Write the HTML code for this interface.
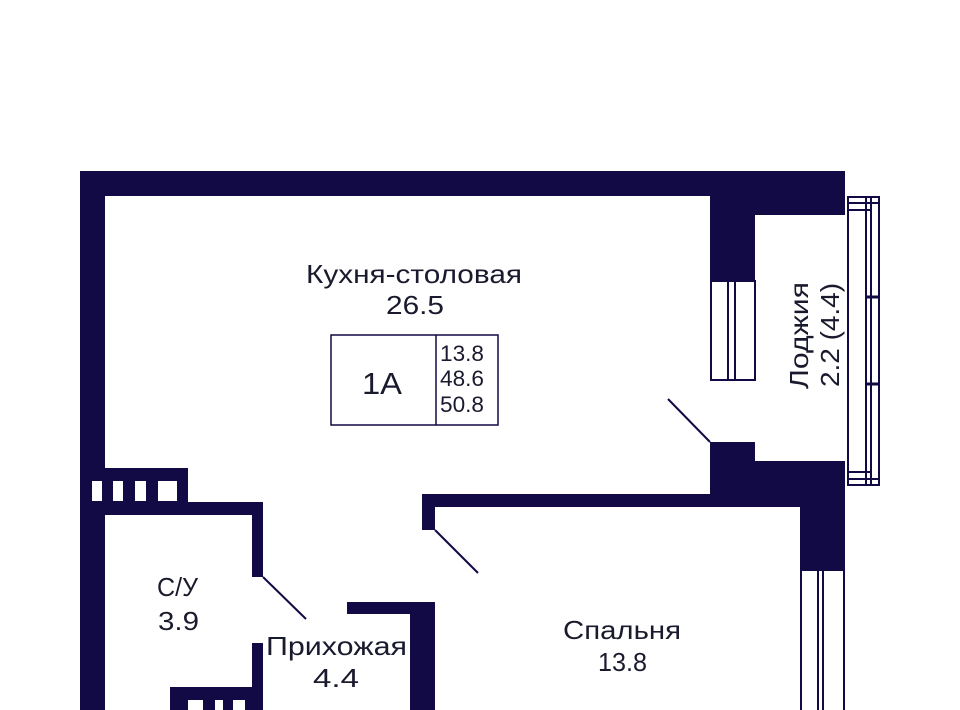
<!DOCTYPE html>
<html><head><meta charset="utf-8"><style>
html,body{margin:0;padding:0;background:#fff;width:960px;height:710px;overflow:hidden}
text{font-family:"Liberation Sans",sans-serif;fill:#1a1a2e}
</style></head><body>
<svg width="960" height="710" viewBox="0 0 960 710" xmlns="http://www.w3.org/2000/svg">
<g fill="#110a44">
<rect x="80" y="171" width="765" height="25"/>
<rect x="755" y="171" width="90" height="44"/>
<rect x="710" y="196" width="45" height="85"/>
<rect x="80" y="171" width="25" height="539"/>
<rect x="80" y="468" width="108" height="37"/>
<rect x="80" y="502" width="183" height="13"/>
<rect x="252" y="502" width="11" height="75"/>
<rect x="252" y="643" width="11" height="67"/>
<rect x="170" y="687" width="93" height="23"/>
<rect x="347" y="602" width="88" height="12"/>
<rect x="410" y="602" width="25" height="108"/>
<rect x="422" y="494" width="378" height="13"/>
<rect x="422" y="494" width="13" height="36"/>
<rect x="710" y="442" width="45" height="60"/>
<rect x="710" y="461" width="135" height="46"/>
<rect x="800" y="461" width="45" height="110"/>
</g>
<g fill="#fff">
<rect x="92" y="481" width="10" height="20"/>
<rect x="113" y="481" width="10" height="20"/>
<rect x="135" y="481" width="11" height="20"/>
<rect x="158" y="481" width="19" height="20"/>
<rect x="188" y="700" width="15" height="10"/>
<rect x="215" y="700" width="8" height="10"/>
<rect x="233" y="700" width="12" height="10"/>
</g>
<g stroke="#110a44" fill="none" stroke-width="2">
<line x1="263" y1="577" x2="306" y2="619"/>
<line x1="435" y1="530" x2="478" y2="573"/>
<line x1="668" y1="399" x2="710" y2="442"/>
<rect x="711" y="281" width="44" height="99"/>
<line x1="728" y1="281" x2="728" y2="380"/>
<line x1="735" y1="281" x2="735" y2="380"/>
<line x1="801" y1="571" x2="801" y2="710"/>
<line x1="818" y1="571" x2="818" y2="710"/>
<line x1="823" y1="571" x2="823" y2="710"/>
<line x1="844" y1="571" x2="844" y2="710"/>
<rect x="848" y="197" width="31" height="288"/>
<line x1="866" y1="197" x2="866" y2="485"/>
<line x1="871" y1="197" x2="871" y2="485"/>
<line x1="848" y1="203" x2="879" y2="203"/>
<line x1="848" y1="210" x2="871" y2="210"/>
<line x1="848" y1="472" x2="871" y2="472"/>
<line x1="848" y1="479" x2="879" y2="479"/>
<line x1="866" y1="297" x2="879" y2="297" stroke-width="3"/>
<line x1="866" y1="384" x2="879" y2="384" stroke-width="3"/>
<rect x="331" y="335" width="167" height="90" stroke-width="1.5"/>
<line x1="436" y1="335" x2="436" y2="425" stroke-width="1.5"/>
</g>
<g font-size="26">
<text x="306" y="283" textLength="216" lengthAdjust="spacingAndGlyphs">Кухня-столовая</text>
<text x="386" y="314" textLength="58" lengthAdjust="spacingAndGlyphs">26.5</text>
<text x="157" y="596" textLength="41" lengthAdjust="spacingAndGlyphs">С/У</text>
<text x="158" y="630" textLength="41" lengthAdjust="spacingAndGlyphs">3.9</text>
<text x="266" y="655" textLength="141" lengthAdjust="spacingAndGlyphs">Прихожая</text>
<text x="313" y="687" textLength="46" lengthAdjust="spacingAndGlyphs">4.4</text>
<text x="563" y="639" textLength="118" lengthAdjust="spacingAndGlyphs">Спальня</text>
<text x="598" y="671" textLength="49" lengthAdjust="spacingAndGlyphs">13.8</text>
<text x="362" y="394" font-size="31" textLength="40" lengthAdjust="spacingAndGlyphs">1A</text>
<g transform="rotate(-90)">
<text x="-389" y="808" textLength="107" lengthAdjust="spacingAndGlyphs">Лоджия</text>
<text x="-387" y="839" textLength="104" lengthAdjust="spacingAndGlyphs">2.2 (4.4)</text>
</g>
</g>
<g font-size="22">
<text x="440" y="361" textLength="44" lengthAdjust="spacingAndGlyphs">13.8</text>
<text x="440" y="386" textLength="44" lengthAdjust="spacingAndGlyphs">48.6</text>
<text x="440" y="412" textLength="44" lengthAdjust="spacingAndGlyphs">50.8</text>
</g>
</svg>
</body></html>
